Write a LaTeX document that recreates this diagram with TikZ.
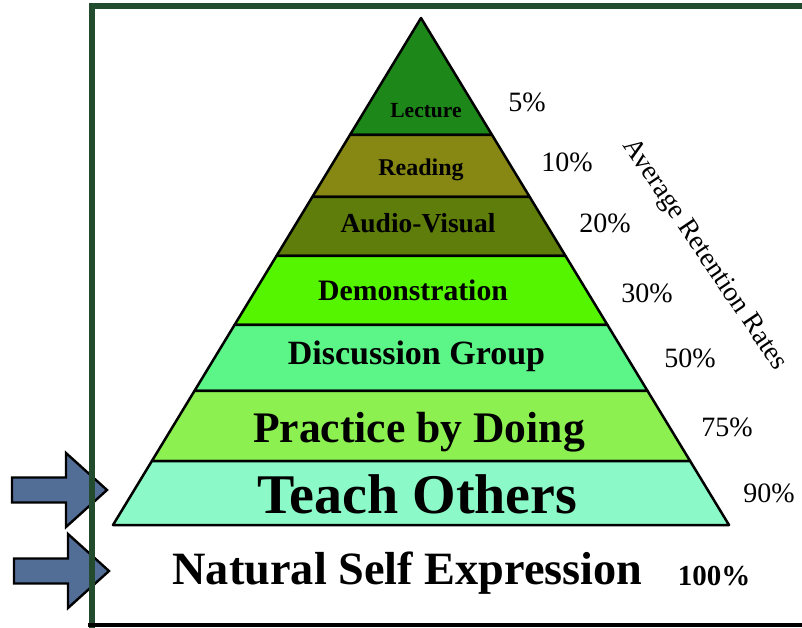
\documentclass[tikz,border=0pt]{standalone}
\usepackage{fontspec}
\setmainfont{Liberation Serif}
\usetikzlibrary{calc}

\definecolor{framegreen}{RGB}{35,75,45}
\definecolor{arrowblue}{RGB}{82,110,150}
\definecolor{lecturegreen}{RGB}{30,135,25}
\definecolor{readingolive}{RGB}{135,135,20}
\definecolor{audiogreen}{RGB}{95,125,10}
\definecolor{demogreen}{RGB}{85,245,0}
\definecolor{discussgreen}{RGB}{92,245,135}
\definecolor{practicegreen}{RGB}{140,240,80}
\definecolor{teachaqua}{RGB}{140,250,200}

\begin{document}
\begin{tikzpicture}[x=1pt,y=-1pt,
        layer/.style={draw=black,line width=2.5pt,line join=round},
        tag/.style={font=\bfseries,inner sep=0pt,anchor=base},
        rate/.style={font=\fontsize{28}{28}\selectfont,inner sep=0pt,anchor=base},
        blockarrow/.style={fill=arrowblue,draw=black,line width=2.4pt,line join=miter},
        ]
    \useasboundingbox (0,0) rectangle (802,628);
    \coordinate (apex) at (421,18);
    \coordinate (bl) at (113,525);
    \coordinate (br) at (729,525);

    % the two pointers on the left
    \foreach \tx/\ty in {107/490, 109/571} {
        \draw[blockarrow] (\tx,\ty) -- (\tx-41,\ty-37) -- (\tx-41,\ty-12.5)
            -- (\tx-95,\ty-12.5) -- (\tx-95,\ty+12.5) -- (\tx-41,\ty+12.5)
            -- (\tx-41,\ty+37) -- cycle;
    }

    % pyramid layers, top down
    \foreach \ya/\yb/\col in {18/135/lecturegreen, 135/197/readingolive,
            197/256/audiogreen, 256/325/demogreen, 325/391/discussgreen,
            391/461/practicegreen, 461/525/teachaqua} {
        \filldraw[layer,fill=\col]
            ($(apex)!{(\ya-18)/507}!(bl)$) -- ($(apex)!{(\yb-18)/507}!(bl)$)
            -- ($(apex)!{(\yb-18)/507}!(br)$) -- ($(apex)!{(\ya-18)/507}!(br)$)
            -- cycle;
    }

    \node (lecture) [tag,font=\bfseries\fontsize{21.5}{21.5}\selectfont] at (426,118) {Lecture};
    \node (reading) [tag,font=\bfseries\fontsize{24}{24}\selectfont] at (421,176) {Reading};
    \node (audio) [tag,font=\bfseries\fontsize{27.5}{27.5}\selectfont] at (418,233) {Audio-Visual};
    \node (demo) [tag,font=\bfseries\fontsize{29.7}{29.7}\selectfont] at (413,300) {Demonstration};
    \node (discuss) [tag,font=\bfseries\fontsize{34}{34}\selectfont] at (416.5,364) {Discussion Group};
    \node (practice) [tag,font=\bfseries\fontsize{43.6}{43.6}\selectfont] at (419,442) {Practice by Doing};
    \node (teach) [tag,font=\bfseries\fontsize{56}{56}\selectfont] at (417.5,513) {Teach Others};
    \node (natural) [tag,font=\bfseries\fontsize{46.3}{46.3}\selectfont] at (407.5,584) {Natural Self Expression};

    % retention rates
    \node (r5) [rate] at (527,112) {5\%};
    \node (r10) [rate] at (567,172) {10\%};
    \node (r20) [rate] at (605,233) {20\%};
    \node (r30) [rate] at (647,302) {30\%};
    \node (r50) [rate] at (690,367) {50\%};
    \node (r75) [rate] at (727,436) {75\%};
    \node (r90) [rate] at (769,502) {90\%};
    \node (r100) [rate,font=\bfseries\fontsize{29}{29}\selectfont] at (714,585) {100\%};
    \node (avg) [font=\fontsize{27.5}{27.5}\selectfont,inner sep=0pt,rotate=-56]
        at (704,255) {Average Retention Rates};

    % frame
    \draw[framegreen,line width=6pt] (802,6) -- (91.5,6) -- (91.5,628);
    \draw[black,line width=3.5pt] (88,625) -- (802,625);
\end{tikzpicture}
\end{document}
